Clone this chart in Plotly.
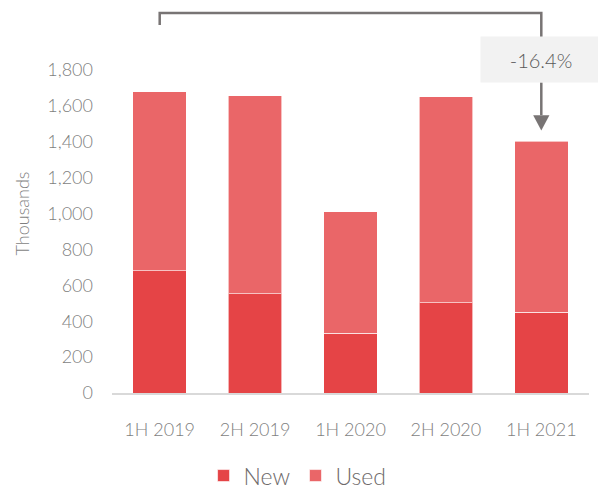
import plotly.graph_objects as go

# Half-year vehicle sales, in thousands of units
periods = ["1H 2019", "2H 2019", "1H 2020", "2H 2020", "1H 2021"]
new_units = [682, 553, 333, 502, 450]
used_units = [997, 1104, 676, 1148, 953]
y_ticks = [0, 200, 400, 600, 800, 1000, 1200, 1400, 1600, 1800]
Y_MAX = 2000

totals = [n + u for n, u in zip(new_units, used_units)]
change_pct = (totals[-1] / totals[0] - 1) * 100

NEW_COLOR = "#E54446"
USED_COLOR = "#EA6668"
LINE_COLOR = "#787474"
FONT = "Lato"

fig = go.Figure()
fig.add_trace(go.Bar(
    x=periods, y=new_units, name="New",
    marker=dict(color=NEW_COLOR, line=dict(color="rgba(255,255,255,0.6)", width=1)),
))
fig.add_trace(go.Bar(
    x=periods, y=used_units, name="Used",
    marker=dict(color=USED_COLOR, line=dict(color="rgba(255,255,255,0.6)", width=1)),
))

# Bracket linking the first and last period, with the change label and arrow
first_i, last_i = 0, len(periods) - 1
top_y = 1.0585
box_y, box_h = 0.9276, 0.125
fig.add_shape(type="path", xref="x", yref="paper",
              path=f"M {first_i},1.025 L {first_i},{top_y} L {last_i},{top_y} L {last_i},{box_y + box_h / 2}",
              line=dict(color=LINE_COLOR, width=2.5))
tip = totals[last_i] + 60
head = totals[last_i] + 145
fig.add_shape(type="line", xref="x", yref="paper",
              x0=last_i, x1=last_i, y0=box_y - box_h / 2, y1=head / Y_MAX,
              line=dict(color=LINE_COLOR, width=2.5))
fig.add_shape(type="path", xref="x", yref="y",
              path=f"M {last_i - 0.085},{head} L {last_i + 0.085},{head} L {last_i},{tip} Z",
              fillcolor=LINE_COLOR, line=dict(color=LINE_COLOR, width=0))
fig.add_annotation(
    x=last_i, xref="x", y=box_y, yref="paper",
    text=f"{change_pct:.1f}%", showarrow=False,
    font=dict(family=FONT, size=20, color="#595959"),
    bgcolor="#F2F2F2", width=116, height=41, borderpad=2,
    xanchor="center", yanchor="middle",
)

fig.update_layout(
    width=598, height=497,
    margin=dict(l=112, r=9, t=34, b=104, autoexpand=False),
    barmode="stack", bargap=0.44,
    plot_bgcolor="white", paper_bgcolor="white",
    font=dict(family=FONT, size=18, color="#7F7F7F", weight=300),
    showlegend=True,
    legend=dict(orientation="h", x=0.389, xanchor="center", y=-0.29, yanchor="bottom",
                font=dict(size=23, color="#6E6A6A"), traceorder="normal",
                itemwidth=30),
    xaxis=dict(range=[-0.5, len(periods) - 0.5], showgrid=False, showline=True,
               linecolor="#D9D9D9", linewidth=1.5,
               ticks="", ticklabelstandoff=20, tickfont=dict(size=18)),
    yaxis=dict(range=[0, Y_MAX], showgrid=False, showline=False, zeroline=False,
               tickvals=y_ticks, tickformat=",", ticks="", ticklabelstandoff=18,
               tickfont=dict(size=18),
               title=dict(text="Thousands", font=dict(size=18, color="#7F7F7F"), standoff=12)),
)

fig.write_html("out.html")
